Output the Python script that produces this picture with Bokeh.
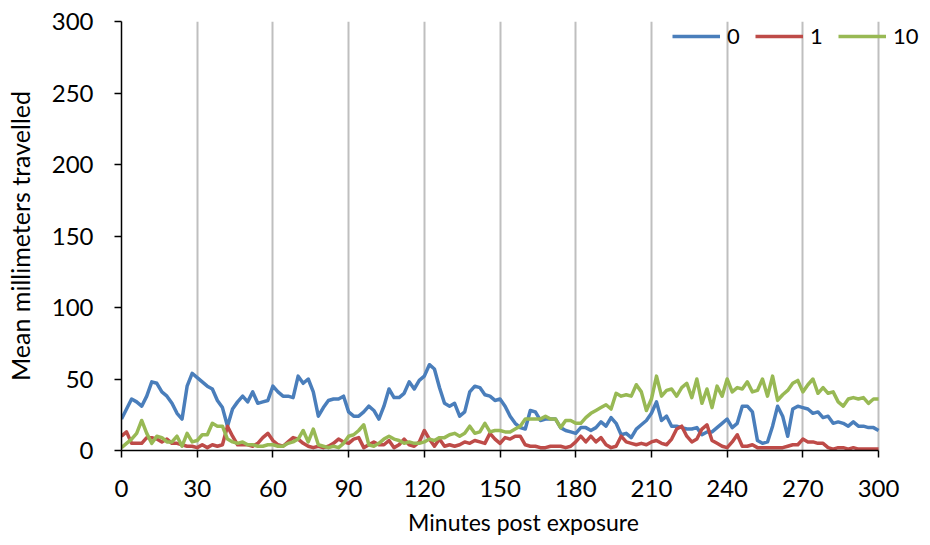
from bokeh.plotting import figure
from bokeh.models import FixedTicker, Legend, LegendItem
from bokeh.embed import file_html
from bokeh.resources import INLINE

minutes = list(range(0, 301, 2))

series_0 = [22, 29, 36, 34, 31, 38, 48, 47, 41, 38, 33, 26, 22, 45, 54, 51, 48, 45, 43, 35, 30, 17, 29, 34, 38, 34,
            41, 33, 34, 35, 45, 41, 38, 38, 37, 52, 47, 50, 41, 24, 30, 35, 36, 36, 38, 27, 24, 24, 27, 31, 28,
            22, 31, 43, 37, 37, 40, 48, 43, 49, 52, 60, 57, 44, 33, 31, 33, 24, 27, 41, 45, 44, 39, 38, 35, 36, 31,
            24, 19, 16, 15, 28, 27, 21, 22, 22, 22, 16, 14, 13, 12, 16, 16, 14, 16, 20, 17, 23, 19, 11, 12, 9, 15,
            18, 21, 26, 34, 21, 24, 17, 17, 16, 15, 15, 16, 11, 13, 13, 16, 19, 22, 16, 19, 31, 31, 27, 7, 5, 6,
            17, 31, 24, 10, 29, 31, 30, 29, 26, 27, 23, 24, 19, 20, 19, 17, 20, 17, 17, 16, 16, 14]

series_1 = [10, 13, 5, 5, 5, 9, 9, 8, 6, 8, 5, 5, 4, 3, 3, 2, 4, 2, 4, 3, 4, 17, 10, 4, 4, 4,
            3, 5, 9, 12, 7, 4, 3, 6, 9, 8, 5, 3, 2, 3, 2, 3, 5, 8, 6, 5, 8, 9, 2, 4, 6,
            4, 4, 7, 2, 4, 8, 4, 3, 6, 14, 8, 3, 8, 3, 4, 3, 4, 6, 5, 7, 6, 5, 12, 8, 5, 9,
            8, 10, 10, 4, 3, 3, 2, 2, 3, 3, 3, 2, 3, 6, 10, 6, 10, 6, 9, 4, 2, 3, 10, 6, 5, 4,
            5, 4, 6, 7, 5, 4, 8, 15, 17, 10, 6, 8, 15, 18, 7, 5, 3, 2, 6, 11, 3, 3, 4, 2, 2, 2,
            2, 2, 2, 3, 4, 4, 8, 6, 6, 5, 5, 2, 1, 2, 2, 1, 2, 1, 1, 1, 1, 1]

series_10 = [2, 5, 8, 12, 21, 12, 5, 10, 9, 6, 6, 10, 3, 12, 6, 7, 11, 11, 19, 17, 17, 8, 6, 5, 6, 4,
             4, 3, 3, 4, 4, 3, 3, 5, 6, 8, 14, 6, 15, 4, 3, 2, 3, 2, 5, 10, 11, 14, 18, 4, 3,
             5, 8, 10, 8, 7, 5, 6, 5, 5, 6, 8, 7, 9, 9, 11, 12, 10, 12, 17, 12, 13, 19, 13, 14, 14, 13,
             13, 15, 17, 22, 22, 22, 22, 24, 22, 22, 16, 21, 21, 19, 19, 23, 26, 28, 30, 32, 29, 40, 38, 39, 38, 46,
             41, 28, 36, 52, 38, 42, 43, 38, 44, 47, 37, 50, 33, 43, 30, 45, 38, 50, 41, 44, 43, 48, 41, 42, 50, 38,
             52, 35, 39, 42, 47, 49, 41, 46, 50, 40, 44, 40, 41, 34, 31, 36, 37, 36, 37, 33, 36, 36]

series_names = ["0", "1", "10"]
series_colors = ["#4A7EBB", "#BE4B48", "#98B954"]
x_ticks = list(range(0, 301, 30))
y_ticks = list(range(0, 301, 50))

FONT = "Lato"

# frame is extended to the right (axis bounded at 300) so the legend fits
p = figure(width=925, height=540, x_range=(0, 318.6), y_range=(0, 300),
           output_backend="svg", toolbar_location=None,
           min_border_left=121, min_border_right=0, min_border_top=21, min_border_bottom=90)
p.outline_line_color = None
p.background_fill_color = "white"
p.border_fill_color = "white"

p.xgrid.ticker = FixedTicker(ticks=x_ticks)
p.xgrid.grid_line_color = "#BFBFBF"
p.xgrid.grid_line_width = 2
p.ygrid.grid_line_color = None

for ax, ticks in ((p.xaxis[0], x_ticks), (p.yaxis[0], y_ticks)):
    ax.ticker = FixedTicker(ticks=ticks)
    ax.axis_line_color = "black"
    ax.axis_line_width = 1.5
    ax.major_tick_line_color = "black"
    ax.major_tick_line_width = 1.5
    ax.major_tick_in = 0
    ax.major_tick_out = 7
    ax.minor_tick_line_color = None
    ax.major_label_text_font = FONT
    ax.major_label_text_font_size = "24px"
    ax.major_label_text_color = "black"
    ax.axis_label_text_font = FONT
    ax.axis_label_text_font_style = "normal"
    ax.axis_label_text_color = "black"

p.xaxis.bounds = (0, 300)
p.xaxis.axis_label = "Minutes post exposure"
p.yaxis.axis_label = "Mean millimeters travelled"
p.xaxis.axis_label_text_font_size = "23px"
p.yaxis.axis_label_text_font_size = "25px"
p.xaxis.major_label_standoff = 22
p.yaxis.major_label_standoff = 21
p.xaxis.axis_label_standoff = 8
p.yaxis.axis_label_standoff = 14

renderers = []
for name, ys, col in zip(series_names, [series_0, series_1, series_10], series_colors):
    r = p.line(minutes, ys, line_color=col, line_width=3.5, line_join="round")
    renderers.append(r)

legend = Legend(items=[LegendItem(label=n, renderers=[r]) for n, r in zip(series_names, renderers)],
                orientation="horizontal", location=(551, 401))
legend.background_fill_alpha = 0
legend.border_line_color = None
legend.label_text_font = FONT
legend.label_text_font_size = "22px"
legend.label_text_color = "black"
legend.glyph_width = 48
legend.label_standoff = 7
legend.spacing = 8
legend.padding = 0
legend.margin = 0
p.add_layout(legend, "center")

open("out.html", "w").write(file_html(p, INLINE))
